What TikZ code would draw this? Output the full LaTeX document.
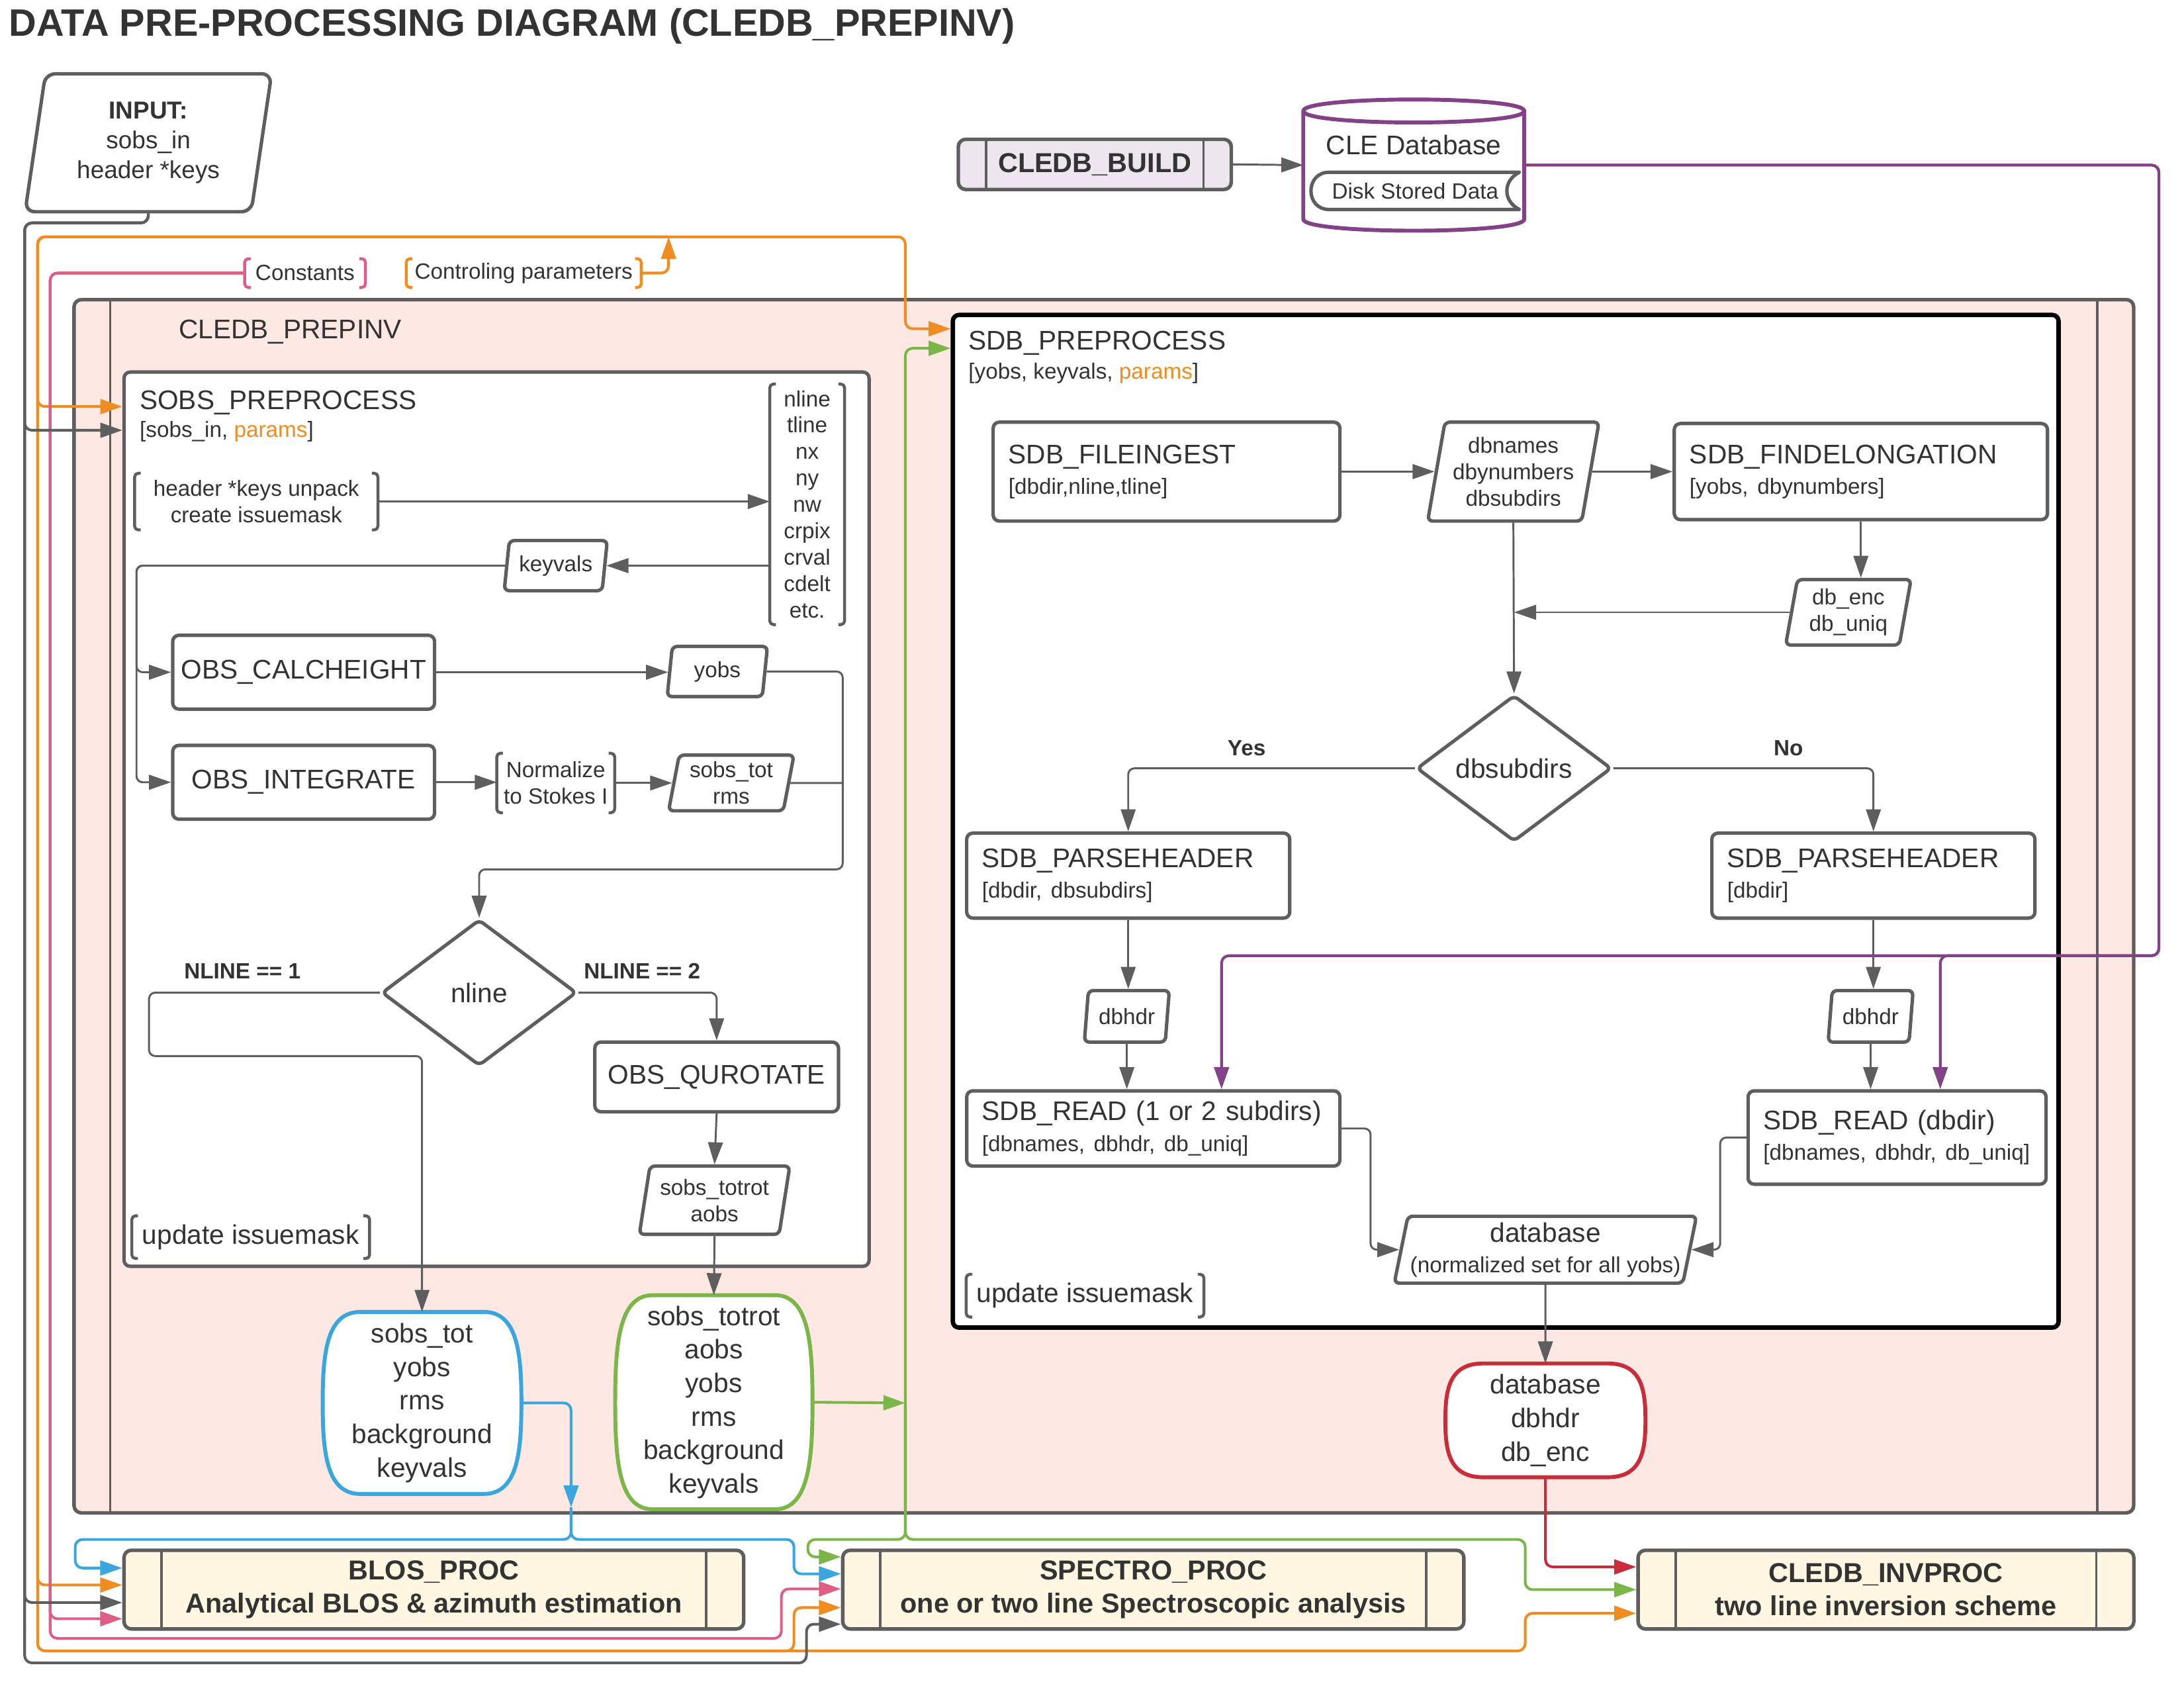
\documentclass[tikz,border=0pt]{standalone}
\usepackage{fontspec}
\setmainfont{Liberation Sans}
\usetikzlibrary{arrows.meta,calc,shapes.geometric}

\definecolor{gline}{HTML}{5E5E5E}
\definecolor{tcol}{HTML}{333333}
\definecolor{corange}{HTML}{EF8D22}
\definecolor{cpink}{HTML}{DE5F85}
\definecolor{cblue}{HTML}{3AA6DD}
\definecolor{cgreen}{HTML}{7AB648}
\definecolor{cpurple}{HTML}{834187}
\definecolor{cred}{HTML}{C92D39}
\definecolor{pinkfill}{HTML}{FDE8E3}
\definecolor{creamfill}{HTML}{FFF7E1}
\definecolor{lavfill}{HTML}{EDE6EF}

\newcommand{\fbig}{\fontsize{11}{12.5}\selectfont}
\newcommand{\fsml}{\fontsize{9}{10.8}\selectfont}
\newcommand{\fterm}{\fontsize{11}{13.7}\selectfont}
\newcommand{\bracks}[2]{%
  \draw[#2,line width=1.2pt,rounded corners=1.5pt] ([xshift=2.5pt]#1.north west) -- (#1.north west) -- (#1.south west) -- ([xshift=2.5pt]#1.south west);
  \draw[#2,line width=1.2pt,rounded corners=1.5pt] ([xshift=-2.5pt]#1.north east) -- (#1.north east) -- (#1.south east) -- ([xshift=-2.5pt]#1.south east);}
\newcommand{\termshape}[2]{%
  \draw[#2,line width=1.6pt,fill=white] ($(#1.north west)!0.19!(#1.north east)$) -- ($(#1.north west)!0.81!(#1.north east)$)
    .. controls ($(#1.north west)!0.98!(#1.north east)$) and ($(#1.north east)!0.45!(#1.east)$) .. (#1.east)
    .. controls ($(#1.south east)!0.45!(#1.east)$) and ($(#1.south west)!0.98!(#1.south east)$) .. ($(#1.south west)!0.81!(#1.south east)$)
    -- ($(#1.south west)!0.19!(#1.south east)$)
    .. controls ($(#1.south west)!0.02!(#1.south east)$) and ($(#1.south west)!0.45!(#1.west)$) .. (#1.west)
    .. controls ($(#1.north west)!0.45!(#1.west)$) and ($(#1.north west)!0.02!(#1.north east)$) .. cycle;}

\begin{document}
\begin{tikzpicture}[x=0.02cm,y=-0.02cm,line join=round,
  >={Triangle[length=9pt,width=6pt]},
  every node/.append style={text=tcol},
  lbl/.style={anchor=base west,inner sep=0pt},
  conn/.style={->,gline,line width=0.8pt,rounded corners=2.5pt},
  gl/.style={gline,line width=0.8pt,rounded corners=2.5pt},
  bus/.style={->,#1,line width=1.1pt,rounded corners=3pt},
  proc/.style={draw=gline,fill=white,line width=1.4pt,rounded corners=2.5pt,inner sep=0pt,font=\fbig},
  procl/.style={proc,align=left,text width=#1},
  io/.style={trapezium,trapezium left angle=76,trapezium right angle=104,trapezium stretches body,
    draw=gline,fill=white,line width=1.4pt,rounded corners=2pt,inner sep=0pt,align=center,font=\fsml},
  choice/.style={diamond,draw=gline,fill=white,line width=1.4pt,rounded corners=2pt,inner sep=0pt,font=\fbig},
  frame/.style={inner sep=0pt},
  termtxt/.style={inner sep=0pt,align=center,font=\fterm},
  note/.style={inner sep=0pt,align=center,font=\fsml},
  sub/.style={draw=gline,fill=creamfill,line width=1.45pt,rounded corners=3pt,align=center,
    font=\bfseries\fontsize{11.2}{13.7}\selectfont,
    path picture={\draw[gline,line width=1pt]
      ([xshift=#1]path picture bounding box.north west) -- ([xshift=#1]path picture bounding box.south west)
      ([xshift=-#1]path picture bounding box.north east) -- ([xshift=-#1]path picture bounding box.south east);}},
  sub/.default=0.54cm]

\useasboundingbox (0,0) rectangle (1568,1211.6);

\node[lbl,font=\bfseries\fontsize{15.6}{18}\selectfont] (title) at (6,26) {DATA PRE-PROCESSING DIAGRAM (CLEDB\_PREPINV)};

\node[io,minimum width=3.54cm,minimum height=1.98cm,rounded corners=4pt,font=\fontsize{10}{12.2}\selectfont] (input) at (106.5,102.5) {\textbf{INPUT:}\\sobs\_in\\header *keys};
\node[note,minimum width=1.72cm,minimum height=0.4cm] (const) at (219,196) {Constants};
\node[note,minimum width=3.36cm,minimum height=0.4cm] (ctrl) at (376,196) {Controling parameters};

\node[sub=0.52cm,fill=pinkfill,minimum width=29.58cm,minimum height=17.42cm] (prepinv) at (792.5,650.5) {};
\node[lbl,font=\fbig] (prepinvlbl) at (128,243) {CLEDB\_PREPINV};

% sobs side
\node[proc,minimum width=10.7cm,minimum height=12.84cm] (sobs) at (356.5,588) {};
\node[lbl,font=\fbig] (sobslbl) at (100,294) {SOBS\_PREPROCESS};
\node[lbl,font=\fsml] (sobssub) at (100,314) {[sobs\_in, \textcolor{corange}{params}]};
\node[note,minimum width=3.48cm,minimum height=0.8cm] (unpack) at (184,360) {header *keys unpack\\create issuemask};
\node[note,minimum width=1.06cm,minimum height=3.44cm] (keys) at (579.5,362) {nline\\tline\\nx\\ny\\nw\\crpix\\crval\\cdelt\\etc.};
\node[io,minimum width=1.48cm,minimum height=0.72cm] (keyvals) at (399,406) {keyvals};
\node[proc,minimum width=3.76cm,minimum height=1.06cm] (calch) at (218,482.5) {OBS\_CALCHEIGHT};
\node[io,minimum width=1.44cm,minimum height=0.72cm] (yobs) at (515,482) {yobs};
\node[proc,minimum width=3.76cm,minimum height=1.06cm] (integ) at (218,561.5) {OBS\_INTEGRATE};
\node[note,minimum width=1.68cm,minimum height=0.84cm] (norm) at (399,562) {Normalize\\to Stokes I};
\node[io,minimum width=1.8cm,minimum height=0.8cm] (sobstot) at (525,562) {sobs\_tot\\rms};
\node[choice,minimum width=2.8cm,minimum height=2.1cm] (nline) at (344,712.5) {nline};
\node[font=\bfseries\fsml] (nl1) at (174,697) {NLINE == 1};
\node[font=\bfseries\fsml] (nl2) at (461,697) {NLINE == 2};
\node[proc,minimum width=3.5cm,minimum height=1cm] (qurot) at (514.5,773) {OBS\_QUROTATE};
\node[io,minimum width=2.16cm,minimum height=0.98cm] (totrot) at (513,861.5) {sobs\_totrot\\aobs};
\node[note,minimum width=3.4cm,minimum height=0.6cm,font=\fbig] (upd1) at (180,888) {update issuemask};
\node[frame,minimum width=2.84cm,minimum height=2.6cm] (bterm) at (303,1007) {};
\termshape{bterm}{cblue}
\node[termtxt] (btermtxt) at (bterm) {sobs\_tot\\yobs\\rms\\background\\keyvals};
\node[frame,minimum width=2.82cm,minimum height=3.06cm] (gterm) at (512.5,1006.5) {};
\termshape{gterm}{cgreen}
\node[termtxt] (gtermtxt) at (gterm) {sobs\_totrot\\aobs\\yobs\\rms\\background\\keyvals};

% database build
\node[sub=0.4cm,fill=lavfill,minimum width=3.92cm,minimum height=0.72cm] (build) at (786,118) {CLEDB\_BUILD};
\node[minimum width=3.16cm,minimum height=1.86cm,inner sep=0pt] (cledb) at (1015,118.5) {};
\draw[cpurple,line width=1.6pt,fill=white] ($(cledb.north west)+(0,8)$) -- ($(cledb.south west)+(0,-8)$)
  .. controls ($(cledb.south west)+(0,3)$) and ($(cledb.south east)+(0,3)$) .. ($(cledb.south east)+(0,-8)$)
  -- ($(cledb.north east)+(0,8)$)
  .. controls ($(cledb.north east)+(0,-3)$) and ($(cledb.north west)+(0,-3)$) .. cycle;
\draw[cpurple,line width=1.6pt] ($(cledb.north west)+(0,8)$) .. controls ($(cledb.north west)+(0,19)$) and ($(cledb.north east)+(0,19)$) .. ($(cledb.north east)+(0,8)$);
\node[font=\fbig] (cledblbl) at (1015,104) {CLE Database};
\node[minimum width=2.98cm,minimum height=0.52cm,inner sep=0pt,font=\fsml] (disk) at (1016,137) {Disk Stored Data};
\draw[gline,line width=1.4pt] ($(disk.north west)+(13,0)$) -- (disk.north east)
  .. controls ($(disk.north east)+(-12,6)$) and ($(disk.south east)+(-12,-6)$) .. (disk.south east)
  -- ($(disk.south west)+(13,0)$)
  .. controls ($(disk.south west)+(-4.3,0)$) and ($(disk.north west)+(-4.3,0)$) .. cycle;

% sdb side
\node[proc,draw=black,line width=1.8pt,minimum width=15.88cm,minimum height=14.54cm] (sdbpre) at (1081,589.5) {};
\node[lbl,font=\fbig] (sdbprelbl) at (695,251) {SDB\_PREPROCESS};
\node[lbl,font=\fsml] (sdbpresub) at (695,272) {[yobs, keyvals, \textcolor{corange}{params}]};
\node[procl=4.54cm,minimum width=4.98cm,minimum height=1.42cm] (fileing) at (837.5,338.5) {SDB\_FILEINGEST\\{\fsml [dbdir,nline,tline]}};
\node[io,minimum width=2.46cm,minimum height=1.42cm] (dbnames) at (1086.5,338.5) {dbnames\\dbynumbers\\dbsubdirs};
\node[procl=4.92cm,minimum width=5.36cm,minimum height=1.38cm] (findel) at (1336,338.5) {SDB\_FINDELONGATION\\{\fsml [yobs, dbynumbers]}};
\node[io,minimum width=1.8cm,minimum height=0.94cm] (dbenc) at (1327,439.5) {db\_enc\\db\_uniq};
\node[choice,minimum width=2.8cm,minimum height=2.1cm] (dbsub) at (1087,551.5) {dbsubdirs};
\node[font=\bfseries\fsml] (yes) at (895,537) {Yes};
\node[font=\bfseries\fsml] (no) at (1284,537) {No};
\node[procl=4.2cm,minimum width=4.64cm,minimum height=1.22cm] (parseL) at (810,628.5) {SDB\_PARSEHEADER\\{\fsml [dbdir, dbsubdirs]}};
\node[procl=4.2cm,minimum width=4.64cm,minimum height=1.22cm] (parseR) at (1345,628.5) {SDB\_PARSEHEADER\\{\fsml [dbdir]}};
\node[io,minimum width=1.22cm,minimum height=0.74cm] (hdrL) at (809,729.5) {dbhdr};
\node[io,minimum width=1.22cm,minimum height=0.74cm] (hdrR) at (1343,729.5) {dbhdr};
\node[procl=4.92cm,minimum width=5.36cm,minimum height=1.08cm] (readL) at (828,810) {SDB\_READ (1 or 2 subdirs)\\{\fsml [dbnames, dbhdr, db\_uniq]}};
\node[procl=3.84cm,minimum width=4.28cm,minimum height=1.34cm] (readR) at (1362,816.5) {SDB\_READ (dbdir)\\{\fsml [dbnames, dbhdr, db\_uniq]}};
\node[io,minimum width=4.34cm,minimum height=0.96cm,font=\fbig] (dbase) at (1109.5,897) {database\\{\fsml (normalized set for all yobs)}};
\node[note,minimum width=3.4cm,minimum height=0.6cm,font=\fbig] (upd2) at (779,930) {update issuemask};
\node[frame,minimum width=2.86cm,minimum height=1.62cm] (rterm) at (1109.5,1019.5) {};
\termshape{rterm}{cred}
\node[termtxt] (rtermtxt) at (rterm) {database\\dbhdr\\db\_enc};

% downstream
\node[sub,minimum width=8.9cm,minimum height=1.13cm] (blos) at (311.5,1141) {BLOS\_PROC\\Analytical BLOS \& azimuth estimation};
\node[sub,minimum width=8.92cm,minimum height=1.13cm] (spectro) at (828,1141) {SPECTRO\_PROC\\one or two line Spectroscopic analysis};
\node[sub,minimum width=7.12cm,minimum height=1.13cm] (invproc) at (1354,1141) {CLEDB\_INVPROC\\two line inversion scheme};

\bracks{const}{cpink}
\bracks{ctrl}{corange}
\bracks{unpack}{gline}
\bracks{keys}{gline}
\bracks{norm}{gline}
\bracks{upd1}{gline}
\bracks{upd2}{gline}

\draw[conn] (unpack.east) -- (unpack.east -| keys.west);
\draw[conn] (keys.west |- keyvals.east) -- (keyvals.east);
\draw[conn] (keyvals.west) -- (98,406) |- (calch.west);
\draw[conn] (keyvals.west) -- (98,406) |- (integ.west);
\draw[conn] (calch.east) -- (calch.east -| yobs.west);
\draw[conn] (integ.east) -- (integ.east -| norm.west);
\draw[conn] (norm.east) -- (norm.east -| sobstot.west);
\draw[conn] (yobs.east) -- (605,482) |- (344,624) -- (nline.north);
\draw[gl] (sobstot.east) -- (605,562);
\draw[conn] (nline.west) -| (107,758) -| (bterm.north);
\draw[conn] (nline.east) -| (qurot.north);
\draw[conn] (qurot.south) -- (totrot.north);
\draw[conn] (totrot.south) -- (gterm.north);

\draw[conn] (build.east) -- (cledb.west);
\draw[conn] (fileing.east) -- (fileing.east -| dbnames.west);
\draw[conn] (dbnames.east) -- (dbnames.east -| findel.west);
\draw[conn] (findel.south) -- (findel.south |- dbenc.north);
\draw[conn] (dbnames.south) -- (dbsub.north);
\draw[conn] (dbenc.west) -- (dbenc.west -| dbsub.north);
\draw[conn] (dbsub.west) -| (parseL.north);
\draw[conn] (dbsub.east) -| (parseR.north);
\draw[conn] (parseL.south) -- (parseL.south |- hdrL.north);
\draw[conn] (parseR.south) -- (parseR.south |- hdrR.north);
\draw[conn] (hdrL.south) -- (hdrL.south |- readL.north);
\draw[conn] (hdrR.south) -- (hdrR.south |- readR.north);
\draw[conn] (readL.east) -- (984,810) |- (dbase.west);
\draw[conn] (readR.west) -- (1235,816.5) |- (dbase.east);
\draw[conn] (dbase.south) -- (rterm.north);

\coordinate (ojoin) at (480,170);
\coordinate (bjoin) at (410,1082);
\coordinate (gjoin) at (650,1007);

\draw[bus=corange] (ctrl.east) -| (ojoin);
\draw[bus=corange] (ojoin) -- (650,170) |- ($(sdbpre.north west)+(0,11.5)$);
\draw[bus=corange] (ojoin) -- (27,170) |- ($(sobs.north west)+(0,26)$);
\draw[bus=corange] (ojoin) -- (27,170) |- ($(blos.west)+(0,-3.3)$);
\draw[bus=corange] (ojoin) -- (27,170) -- (27,1185) -- (570,1185) |- ($(spectro.west)+(0,12.9)$);
\draw[bus=corange] (ojoin) -- (27,170) -- (27,1185) -- (1095,1185) |- ($(invproc.west)+(0,17)$);

\draw[bus=cpink] (const.west) -- (36,196) |- ($(blos.west)+(0,20.9)$);
\draw[bus=cpink] (const.west) -- (36,196) -- (36,1176) -- (561,1176) |- ($(spectro.west)+(0,-0.5)$);

\draw[bus=gline] (input.south) |- (17.7,160) |- ($(sobs.north west)+(0,43)$);
\draw[bus=gline] (input.south) |- (17.7,160) |- ($(blos.west)+(0,9.3)$);
\draw[bus=gline] (input.south) |- (17.7,160) -- (17.7,1193.6) -- (579,1193.6) |- ($(spectro.west)+(0,24.8)$);

\draw[bus=cblue] (bterm.east) -| (bjoin);
\draw[bus=cblue] (bjoin) -- (410,1105) -- (54,1105) |- ($(blos.west)+(0,-15.5)$);
\draw[bus=cblue] (bjoin) -- (410,1105) -- (570,1105) |- ($(spectro.west)+(0,-11.3)$);

\draw[bus=cgreen] (gterm.east) -- (gjoin);
\draw[bus=cgreen] (gjoin) |- ($(sdbpre.north west)+(0,25.5)$);
\draw[bus=cgreen] (gjoin) -- (650,1105) -- (580,1105) |- ($(spectro.west)+(0,-23.5)$);
\draw[bus=cgreen] (gjoin) -- (650,1105) -- (1095,1105) |- (invproc.west);

\draw[bus=cpurple] (cledb.east) -- (1550,118.5) |- (877,686) -- ($(readL.north)+(49,0)$);
\draw[bus=cpurple] (cledb.east) -- (1550,118.5) |- (1393,686) -- ($(readR.north)+(31,0)$);

\draw[bus=cred] (rterm.south) |- ($(invproc.west)+(0,-16.3)$);

\end{tikzpicture}
\end{document}
